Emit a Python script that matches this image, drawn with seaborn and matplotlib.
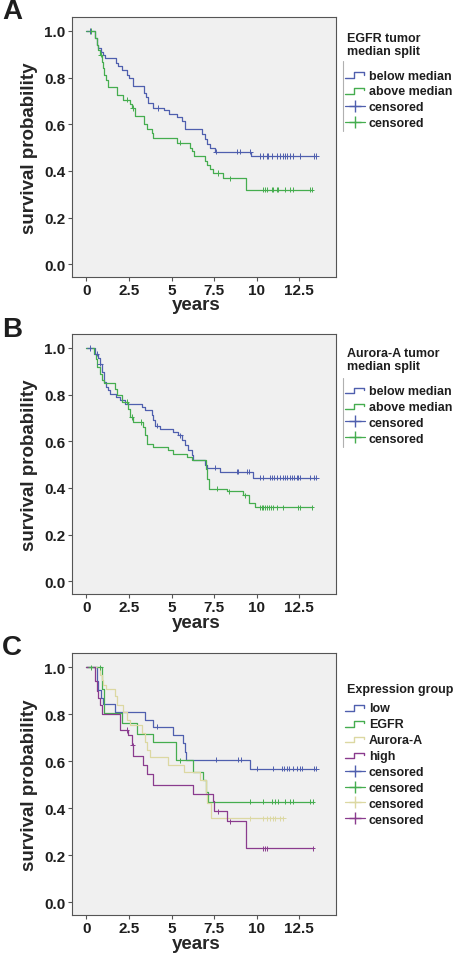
import numpy as np
import pandas as pd
import matplotlib
matplotlib.use("Agg")
import matplotlib.pyplot as plt
import seaborn as sns
from matplotlib.lines import Line2D
from matplotlib.legend_handler import HandlerBase

# ---- panel A: EGFR tumor median split ----
a_below_t = [0, 0.51, 0.60, 0.70, 0.84, 0.95, 1.10, 1.74, 1.85, 2.07, 2.37, 2.52, 2.76, 3.38, 3.48,
             3.64, 3.93, 4.55, 4.87, 5.30, 5.60, 5.77, 6.77, 6.96, 7.08, 7.26, 7.55, 9.65]
a_below_s = [1.0, 0.97, 0.94, 0.925, 0.912, 0.898, 0.883, 0.862, 0.848, 0.834, 0.812, 0.798, 0.763, 0.735,
             0.715, 0.692, 0.670, 0.660, 0.646, 0.630, 0.614, 0.578, 0.557, 0.535, 0.517, 0.500, 0.482, 0.464]
a_below_end = 13.5
a_below_cens = [0.21, 4.2, 7.6, 8.86, 9.0, 9.6, 10.19, 10.39, 10.58, 10.68, 10.88, 11.17, 11.37,
                11.56, 11.66, 11.76, 11.95, 12.15, 12.54, 13.33, 13.48]

a_above_t = [0, 0.51, 0.61, 0.70, 0.80, 0.90, 0.96, 1.04, 1.15, 1.29, 1.82, 2.13, 2.56, 2.70, 2.86,
             3.40, 3.54, 3.83, 3.93, 5.30, 6.08, 6.18, 6.30, 6.96, 7.10, 7.26, 7.45, 8.04, 9.37]
a_above_s = [1.0, 0.97, 0.94, 0.919, 0.898, 0.869, 0.841, 0.812, 0.791, 0.758, 0.727, 0.706, 0.685, 0.670,
             0.635, 0.599, 0.578, 0.564, 0.543, 0.521, 0.500, 0.486, 0.464, 0.443, 0.425, 0.408, 0.391,
             0.368, 0.320]
a_above_end = 13.23
a_above_cens = [0.25, 0.84, 2.37, 2.72, 5.5, 7.75, 8.43, 10.39, 10.49, 10.58, 10.88, 10.97, 11.17,
                11.27, 11.66, 11.95, 12.15, 13.13, 13.23]

# ---- panel B: Aurora-A tumor median split ----
b_below_t = [0, 0.51, 0.70, 0.80, 0.90, 1.04, 1.15, 1.29, 1.39, 1.74, 1.98, 2.27, 3.25, 3.44, 3.83,
             3.93, 4.03, 4.32, 5.10, 5.40, 5.60, 5.79, 5.99, 6.18, 6.28, 6.96, 7.10, 7.85, 9.80]
b_below_s = [1.0, 0.976, 0.955, 0.933, 0.897, 0.854, 0.833, 0.819, 0.804, 0.790, 0.776, 0.761, 0.747,
             0.733, 0.711, 0.690, 0.666, 0.654, 0.640, 0.626, 0.605, 0.583, 0.562, 0.540, 0.519, 0.497,
             0.486, 0.469, 0.443]
b_below_end = 13.5
b_below_cens = [0.2, 0.61, 0.80, 4.17, 5.5, 7.55, 8.82, 8.92, 9.45, 9.57, 10.19, 10.39, 10.78, 10.88,
                11.02, 11.17, 11.37, 11.52, 11.66, 11.80, 11.95, 12.05, 12.19, 12.34, 12.40, 12.54,
                13.13, 13.33, 13.48]

b_above_t = [0, 0.45, 0.55, 0.65, 0.80, 0.90, 1.04, 1.68, 1.80, 2.07, 2.47, 2.56, 2.72, 3.35, 3.45,
             3.54, 3.93, 4.81, 5.10, 5.88, 6.18, 7.00, 7.10, 7.20, 8.24, 9.20, 9.54, 9.90]
b_above_s = [1.0, 0.975, 0.954, 0.919, 0.890, 0.861, 0.850, 0.826, 0.797, 0.769, 0.740, 0.704, 0.683,
             0.661, 0.626, 0.590, 0.576, 0.561, 0.547, 0.533, 0.519, 0.483, 0.440, 0.397, 0.386, 0.369,
             0.337, 0.316]
b_above_end = 13.23
b_above_cens = [2.37, 2.66, 3.2, 7.65, 8.4, 9.31, 10.19, 10.29, 10.39, 10.49, 10.58, 10.74, 10.82,
                10.97, 11.17, 11.52, 12.44, 12.54, 13.23]

# ---- panel C: expression groups ----
c_low_t = [0, 0.61, 0.70, 0.84, 0.96, 1.68, 3.44, 3.93, 5.10, 5.70, 5.78, 5.85, 9.62]
c_low_s = [1.0, 0.94, 0.903, 0.868, 0.843, 0.811, 0.775, 0.747, 0.711, 0.675, 0.640, 0.606, 0.567]
c_low_end = 13.5
c_low_cens = [4.17, 7.6, 8.9, 9.05, 10.0, 10.94, 11.47, 11.6, 11.76, 11.92, 12.15, 12.34, 12.54,
              12.64, 13.33, 13.48]

c_egfr_t = [0, 0.90, 1.05, 2.07, 2.95, 3.93, 5.26, 6.24, 6.87, 7.00, 7.15]
c_egfr_s = [1.0, 0.907, 0.803, 0.760, 0.717, 0.681, 0.603, 0.553, 0.518, 0.468, 0.428]
c_egfr_end = 13.29
c_egfr_cens = [0.25, 0.80, 5.5, 9.6, 10.39, 10.88, 11.07, 11.27, 11.66, 11.95, 12.11, 13.13, 13.29]

c_aur_t = [0, 0.80, 0.90, 1.00, 1.15, 1.68, 1.82, 2.13, 2.37, 2.56, 3.25, 3.44, 3.54, 3.73, 4.81,
           5.75, 6.67, 7.00, 7.10, 7.30]
c_aur_s = [1.0, 0.967, 0.946, 0.925, 0.907, 0.875, 0.839, 0.810, 0.775, 0.754, 0.718, 0.682, 0.646,
           0.618, 0.582, 0.553, 0.518, 0.460, 0.420, 0.357]
c_aur_end = 11.56
c_aur_cens = [9.6, 10.39, 10.58, 10.78, 10.94, 11.07, 11.37, 11.56]

c_high_t = [0, 0.51, 0.60, 0.70, 0.80, 0.90, 1.98, 2.45, 2.66, 2.76, 3.35, 3.54, 3.93, 6.24, 7.41,
            7.50, 8.24, 9.37]
c_high_s = [1.0, 0.94, 0.90, 0.87, 0.84, 0.799, 0.732, 0.710, 0.667, 0.620, 0.582, 0.543, 0.500,
            0.460, 0.430, 0.386, 0.343, 0.229]
c_high_end = 13.29
c_high_cens = [2.37, 2.72, 7.75, 8.43, 10.39, 10.49, 10.58, 13.29]

x_ticks = [0, 2.5, 5, 7.5, 10, 12.5]
x_tick_labels = ["0", "2.5", "5", "7.5", "10", "12.5"]
y_ticks = [0.0, 0.2, 0.4, 0.6, 0.8, 1.0]
y_tick_labels = ["0.0", "0.2", "0.4", "0.6", "0.8", "1.0"]

BLUE = "#4f5fae"
GREEN = "#45ad4f"
KHAKI = "#dcd8a2"
PURPLE = "#8a3b8e"

sns.set_theme(style="ticks")
plt.rcParams["font.family"] = ["Liberation Sans", "DejaVu Sans"]
plt.rcParams["font.weight"] = "bold"
plt.rcParams["axes.labelweight"] = "bold"
plt.rcParams["text.color"] = "#1e1e1e"

W, H = 456, 954


class StepHandler(HandlerBase):
    # little step glyph, like the SPSS legend
    def create_artists(self, legend, orig_handle, xdescent, ydescent, width, height, fontsize, trans):
        xs = -xdescent + width * np.array([0.0, 0.45, 0.45, 0.95, 0.95])
        ys = -ydescent + height * np.array([0.1, 0.1, 0.7, 0.7, 0.45])
        ln = Line2D(xs, ys, color=orig_handle.get_color(), lw=1.0, transform=trans)
        return [ln]


def km_frames(groups):
    rows, crow = [], []
    for name, t, s, end, cens in groups:
        for ti, si in zip(list(t) + [end], list(s) + [s[-1]]):
            rows.append((name, ti, si))
        idx = np.searchsorted(t, cens, side="right") - 1
        for c, i in zip(cens, idx):
            crow.append((name, c, s[i]))
    df = pd.DataFrame(rows, columns=["group", "years", "surv"])
    cdf = pd.DataFrame(crow, columns=["group", "years", "surv"])
    return df, cdf


def draw(ax, groups, colors):
    df, cdf = km_frames(groups)
    pal = dict(zip([g[0] for g in groups], colors))
    sns.lineplot(data=df, x="years", y="surv", hue="group", palette=pal, estimator=None,
                 drawstyle="steps-post", lw=0.9, legend=False, ax=ax)
    sns.scatterplot(data=cdf, x="years", y="surv", hue="group", palette=pal, marker="+",
                    s=14, linewidth=0.7, legend=False, ax=ax, zorder=3)
    ax.set_facecolor("#f0f0f0")
    ax.set_xlim(-0.84, 14.65)
    ax.set_ylim(-0.055, 1.06)
    ax.set_xticks(x_ticks)
    ax.set_xticklabels(x_tick_labels)
    ax.set_yticks(y_ticks)
    ax.set_yticklabels(y_tick_labels)
    ax.tick_params(axis="both", labelsize=11, length=3, width=0.8, color="#555555",
                   labelcolor="#1e1e1e", pad=1.5)
    for sp in ax.spines.values():
        sp.set_visible(True)
        sp.set_color("#555555")
        sp.set_linewidth(0.8)
    ax.set_xlabel("years", fontsize=13.5, labelpad=0)
    ax.set_ylabel("survival probability", fontsize=13.5)
    ax.xaxis.set_label_coords(0.47, -0.075)
    ax.yaxis.set_label_coords(-0.13, 0.5)


def add_legend(fig, ax, title, top_px, first_px, names, colors, bracket=None):
    fig.text(347 / W, 1 - top_px / H, title, fontsize=9, fontweight="bold", va="top",
             ha="left", linespacing=1.15)
    handles = [Line2D([], [], color=c) for c in colors]
    handles += [Line2D([], [], color=c, marker="+", markersize=8, lw=0.9) for c in colors]
    labels = list(names) + ["censored"] * len(names)
    hmap = {h: StepHandler() for h in handles[:len(colors)]}
    ax.legend(handles, labels, handler_map=hmap, loc="upper left",
              bbox_to_anchor=(345 / W, 1 - first_px / H), bbox_transform=fig.transFigure,
              frameon=False, borderpad=0, borderaxespad=0, handlelength=1.6,
              handletextpad=0.3, labelspacing=0.31, prop={"weight": "bold", "size": 9})
    if bracket:
        fig.add_artist(Line2D([343 / W, 343 / W], [1 - bracket[0] / H, 1 - bracket[1] / H],
                              color="#b0b0b0", lw=0.8))


fig = plt.figure(figsize=(4.56, 9.54), dpi=100)
ax_a = fig.add_axes([72 / W, 1 - 278 / H, 264 / W, 260 / H])
ax_b = fig.add_axes([72 / W, 1 - 595 / H, 264 / W, 260 / H])
ax_c = fig.add_axes([72 / W, 1 - 916 / H, 264 / W, 262 / H])

draw(ax_a, [("below median", a_below_t, a_below_s, a_below_end, a_below_cens),
            ("above median", a_above_t, a_above_s, a_above_end, a_above_cens)], [BLUE, GREEN])
draw(ax_b, [("below median", b_below_t, b_below_s, b_below_end, b_below_cens),
            ("above median", b_above_t, b_above_s, b_above_end, b_above_cens)], [BLUE, GREEN])
draw(ax_c, [("low", c_low_t, c_low_s, c_low_end, c_low_cens),
            ("EGFR", c_egfr_t, c_egfr_s, c_egfr_end, c_egfr_cens),
            ("Aurora-A", c_aur_t, c_aur_s, c_aur_end, c_aur_cens),
            ("high", c_high_t, c_high_s, c_high_end, c_high_cens)],
     [BLUE, GREEN, KHAKI, PURPLE])

add_legend(fig, ax_a, "EGFR tumor\nmedian split", 33, 70.5, ["below median", "above median"],
           [BLUE, GREEN], bracket=(62, 132))
add_legend(fig, ax_b, "Aurora-A tumor\nmedian split", 348, 386, ["below median", "above median"],
           [BLUE, GREEN], bracket=(379, 448))
add_legend(fig, ax_c, "Expression group", 684, 703.5, ["low", "EGFR", "Aurora-A", "high"],
           [BLUE, GREEN, KHAKI, PURPLE])

for letter, y in [("A", 12), ("B", 330), ("C", 648)]:
    fig.text(2 / W, 1 - y / H, letter, fontsize=20, fontweight="bold", va="center", ha="left")

fig.savefig("out.png", dpi=100)
